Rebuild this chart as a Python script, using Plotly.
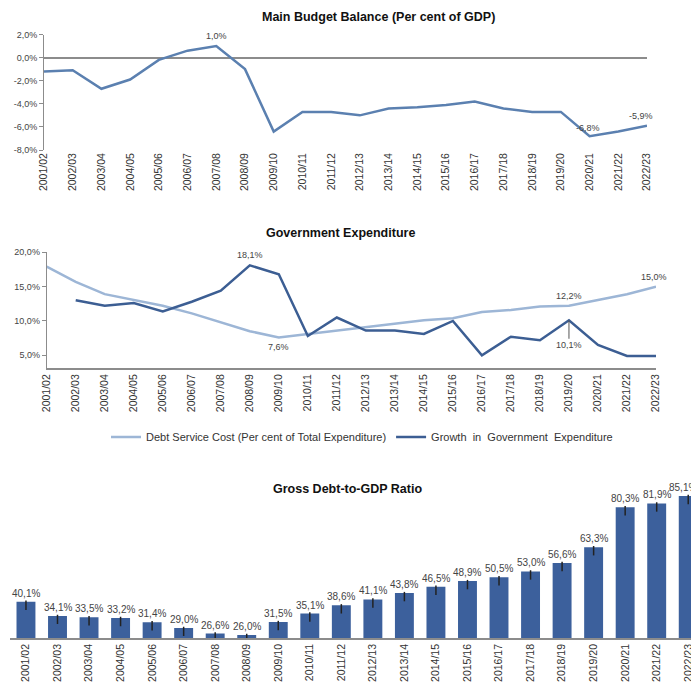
import plotly.graph_objects as go

FONT = "Liberation Sans, Arial, sans-serif"

years = ["2001/02", "2002/03", "2003/04", "2004/05", "2005/06", "2006/07", "2007/08",
         "2008/09", "2009/10", "2010/11", "2011/12", "2012/13", "2013/14", "2014/15",
         "2015/16", "2016/17", "2017/18", "2018/19", "2019/20", "2020/21", "2021/22",
         "2022/23"]

budget_balance = [-1.2, -1.1, -2.7, -1.9, -0.2, 0.6, 1.0, -1.0, -6.4, -4.7, -4.7,
                  -5.0, -4.4, -4.3, -4.1, -3.8, -4.4, -4.7, -4.7, -6.8, -6.4, -5.9]

debt_service = [17.9, 15.7, 13.9, 13.0, 12.2, 11.1, 9.8, 8.5, 7.6, 8.1, 8.7,
                9.2, 9.7, 10.1, 10.4, 11.3, 11.6, 12.1, 12.2, 13.0, 13.9, 15.0]

exp_growth = [None, 13.0, 12.2, 12.6, 11.4, 12.8, 14.4, 18.1, 16.8, 7.8, 10.5,
              8.6, 8.6, 8.1, 10.0, 5.0, 7.7, 7.2, 10.1, 6.5, 4.9, 4.9]

debt_gdp = [40.1, 34.1, 33.5, 33.2, 31.4, 29.0, 26.6, 26.0, 31.5, 35.1, 38.6,
            41.1, 43.8, 46.5, 48.9, 50.5, 53.0, 56.6, 63.3, 80.3, 81.9, 85.1]

idx = list(range(len(years)))

W, H = 699, 686
OFF = 8  # page body margin


def pct(v):
    return f"{v:.1f}%".replace(".", ",")


def px(x):
    return (x - OFF) / W


def py(y):
    return 1 - (y - OFF) / H


def xdom(left, right):
    return [max(0, px(left)), min(1, px(right))]


def ydom(top, bottom):
    return [py(bottom), py(top)]


fig = go.Figure()

# chart 1: main budget balance
fig.add_trace(go.Scatter(x=idx, y=budget_balance, mode="lines", xaxis="x", yaxis="y",
                         line=dict(color="#5b80b0", width=2.5), showlegend=False))

# chart 2: government expenditure
fig.add_trace(go.Scatter(x=idx, y=debt_service, mode="lines", xaxis="x2", yaxis="y2",
                         name="Debt Service Cost (Per cent of Total Expenditure)",
                         line=dict(color="#9db6d6", width=2.5)))
fig.add_trace(go.Scatter(x=idx, y=exp_growth, mode="lines", xaxis="x2", yaxis="y2",
                         name="Growth  in  Government  Expenditure",
                         line=dict(color="#3c5e93", width=2.5)))

# chart 3: gross debt-to-GDP
fig.add_trace(go.Bar(x=idx, y=debt_gdp, xaxis="x3", yaxis="y3", width=0.6,
                     marker=dict(color="#3c609c", line=dict(width=0)),
                     error_y=dict(type="data", symmetric=False,
                                  array=[0.5] * len(debt_gdp),
                                  arrayminus=[3.5] * len(debt_gdp),
                                  width=0, thickness=1.5, color="#222222"),
                     showlegend=False))

tick_font = dict(size=10.5, color="#333333", family=FONT)
ytick_font = dict(size=9, color="#444444", family=FONT)

fig.update_layout(
    width=W, height=H,
    margin=dict(l=0, r=0, t=0, b=0),
    paper_bgcolor="white", plot_bgcolor="white",
    font=dict(family=FONT, color="#333333"),
    xaxis=dict(domain=xdom(44, 647), range=[0, 21], tickvals=idx, ticktext=years,
               tickangle=-90, tickfont=tick_font, showgrid=False, zeroline=False,
               showline=False, ticks="", anchor="y", automargin=False),
    yaxis=dict(domain=ydom(34.5, 150), range=[-8, 2], tickvals=[-8, -6, -4, -2, 0, 2],
               ticktext=[pct(v) for v in [-8, -6, -4, -2, 0, 2]], tickfont=ytick_font,
               showgrid=False, zeroline=True, zerolinecolor="#8c8c8c", zerolinewidth=1.5,
               showline=True, linecolor="#8c8c8c", linewidth=1, ticks="outside",
               ticklen=4, tickcolor="#8c8c8c", anchor="x", automargin=False),
    xaxis2=dict(domain=xdom(46.7, 656), range=[0, 21], tickvals=idx, ticktext=years,
                tickangle=-90, tickfont=tick_font, showgrid=False, zeroline=False,
                showline=True, linecolor="#8c8c8c", linewidth=1.5, ticks="", anchor="y2",
                automargin=False),
    yaxis2=dict(domain=ydom(252.3, 368.3), range=[3.1, 20], tickvals=[5, 10, 15, 20],
                ticktext=[pct(v) for v in [5, 10, 15, 20]], tickfont=ytick_font,
                showgrid=False, zeroline=False, showline=True, linecolor="#8c8c8c",
                linewidth=1, ticks="outside", ticklen=4, tickcolor="#8c8c8c", anchor="x2",
                automargin=False),
    xaxis3=dict(domain=xdom(10.2, 704), range=[-0.5, 21.5], tickvals=idx, ticktext=years,
                tickangle=-90, tickfont=tick_font, showgrid=False, zeroline=False,
                showline=True, linecolor="#8c8c8c", linewidth=1.5, ticks="", anchor="y3",
                automargin=False),
    yaxis3=dict(domain=ydom(472.6, 638), range=[24.7, 95], visible=False, anchor="x3",
                automargin=False),
    legend=dict(orientation="h", x=px(362), xanchor="center", y=py(437),
                yanchor="middle", font=dict(size=11, color="#333333"),
                bgcolor="rgba(0,0,0,0)"),
)

title_font = dict(size=12.5, color="#111111", family=FONT)
for text, xc, yc in [("<b>Main Budget Balance (Per cent of GDP)</b>", 378, 17),
                     ("<b>Government Expenditure</b>", 340, 233),
                     ("<b>Gross Debt-to-GDP Ratio</b>", 347, 489)]:
    fig.add_annotation(text=text, xref="paper", yref="paper", x=px(xc), y=py(yc),
                       xanchor="center", yanchor="middle", showarrow=False, font=title_font)

lab_font = dict(size=9, color="#444444", family=FONT)

# bar value labels
for i, v in enumerate(debt_gdp):
    fig.add_annotation(x=i, y=v, xref="x3", yref="y3", text=pct(v), showarrow=False,
                       yanchor="bottom", yshift=1, xshift=-5 if i == len(debt_gdp) - 1 else 0,
                       font=dict(size=10, color="#444444", family=FONT))

# point labels, chart 1
for i, yshift, xshift in [(6, 10, 0), (19, 8, -2), (21, 10, -6)]:
    fig.add_annotation(x=i, y=budget_balance[i], xref="x", yref="y", text=pct(budget_balance[i]),
                       showarrow=False, yshift=yshift, xshift=xshift, font=lab_font)

# point labels, chart 2
fig.add_annotation(x=7, y=exp_growth[7], xref="x2", yref="y2", text=pct(exp_growth[7]),
                   showarrow=False, yshift=10, font=lab_font)
fig.add_annotation(x=8, y=debt_service[8], xref="x2", yref="y2", text=pct(debt_service[8]),
                   showarrow=False, yshift=-10, font=lab_font)
fig.add_annotation(x=18, y=debt_service[18], xref="x2", yref="y2", text=pct(debt_service[18]),
                   showarrow=False, yshift=10, font=lab_font)
fig.add_annotation(x=21, y=debt_service[21], xref="x2", yref="y2", text=pct(debt_service[21]),
                   showarrow=False, yshift=10, xshift=-2, font=lab_font)
fig.add_annotation(x=18, y=exp_growth[18], xref="x2", yref="y2", text=pct(exp_growth[18]),
                   showarrow=True, arrowhead=0, arrowwidth=1, arrowcolor="#555555",
                   ax=0, ay=25, font=lab_font)

fig.write_html("out.html")
